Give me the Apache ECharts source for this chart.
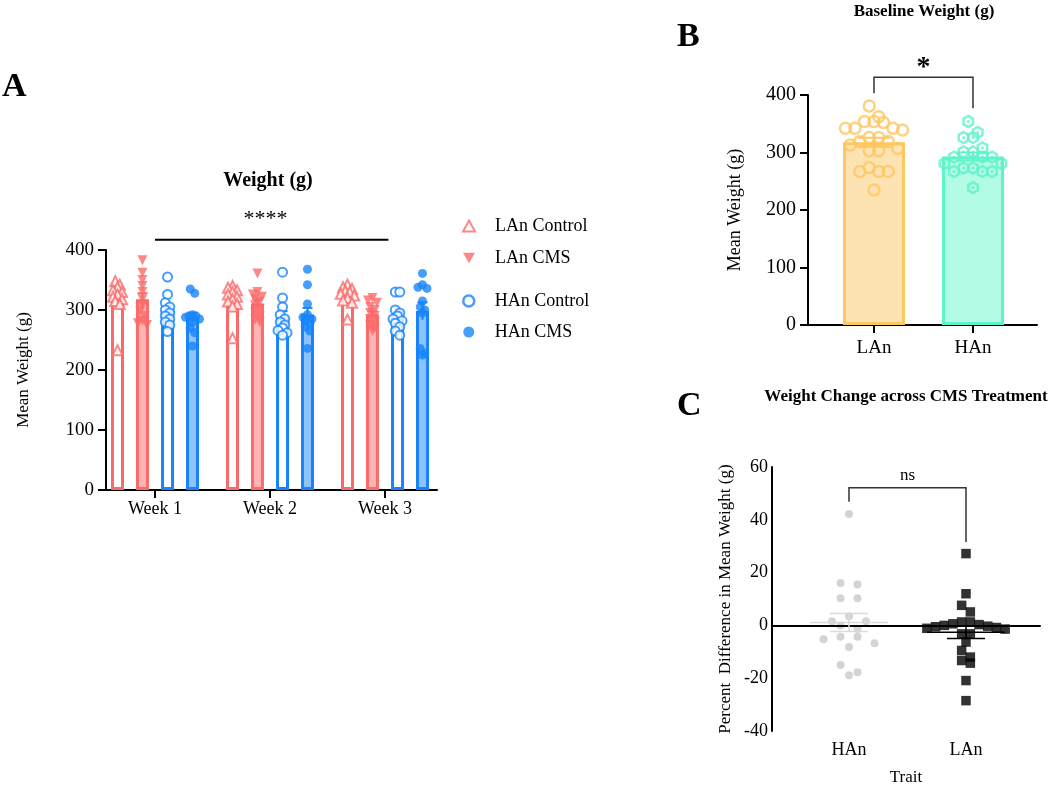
<!DOCTYPE html>
<html><head><meta charset="utf-8">
<script src="https://cdn.jsdelivr.net/npm/echarts@6/dist/echarts.min.js"></script>
<style>html,body{margin:0;padding:0;background:#fff}#c{width:1050px;height:787px}</style>
</head><body><div id="c"></div>
<script>
// ================= DATA =================
// Panel A: weight (g) per week, one inner list per week
const weeks = ['Week 1', 'Week 2', 'Week 3'];
const groupsA = ['LAn Control', 'LAn CMS', 'HAn Control', 'HAn CMS'];
const ticksA = [0, 100, 200, 300, 400];
const lanControl = [
  [348, 342, 338, 333, 330, 326, 322, 318, 315, 310, 233],
  [340, 337, 333, 330, 326, 322, 318, 314, 310, 306, 253],
  [342, 338, 335, 332, 330, 327, 324, 320, 316, 312, 284]
];
const lanCMS = [
  [383, 362, 350, 340, 330, 318, 308, 298, 290, 282, 278, 275],
  [361, 330, 326, 322, 318, 314, 308, 302, 296, 290, 284, 280],
  [320, 316, 312, 305, 300, 295, 290, 285, 280, 275, 270, 265]
];
const hanControl = [
  [355, 326, 312, 305, 300, 295, 290, 285, 280, 275, 264],
  [363, 320, 305, 292, 285, 280, 275, 270, 266, 262, 258],
  [330, 330, 300, 295, 290, 285, 282, 278, 272, 265, 258]
];
const hanCMS = [
  [335, 328, 292, 290, 290, 288, 285, 280, 270, 262, 240],
  [368, 342, 310, 292, 288, 285, 282, 278, 272, 265, 236],
  [361, 342, 338, 336, 315, 305, 300, 295, 236, 228, 225]
];
const sigA = { from: 1, to: 3.03, y: 417, label: '****', labelX: 1.96, labelY: 452 };

// Panel B: baseline weight (g)
const traitsB = ['LAn', 'HAn'];
const ticksB = [0, 100, 200, 300, 400];
const baselineLAn = [381, 362, 354, 354, 352, 342, 342, 342, 339, 326, 326, 319, 319, 313, 307, 303, 303, 274, 267, 267, 267, 235];
const baselineHAn = [354, 335, 326, 326, 308, 301, 301, 292, 292, 292, 281, 281, 273, 273, 267, 267, 267, 239];
const sigB = { left: 403, top: 431, right: 377, label: '*', labelY: 447 };

// Panel C: percent difference in mean weight
const traitsC = ['HAn', 'LAn'];
const ticksC = [-40, -20, 0, 20, 40, 60];
const changeHAn = [42.2, 16.1, 15.5, 10.3, 10.3, 3.5, 1.6, 1.6, 0, -1.3, -4.3, -5.2, -4.3, -6.8, -8.2, -15, -17.7, -18.9];
const changeLAn = [27.2, 12, 7.6, 5.1, 1.3, 1.3, 0.6, 0.3, 0, -0.3, -0.5, -0.8, -1.1, -1.4, -3.2, -3.2, -6.3, -9.5, -12, -13.3, -14.3, -20.9, -28.5];
const sigC = { left: 46.8, top: 52.1, right: 31.6, label: 'ns', labelY: 56.7 };

// ================= STYLE / LAYOUT =================
const FONT = 'Liberation Serif';
const RED = '#fb6a6a', RED_FILL = '#ffb4b4', BLUE = '#1784fb', BLUE_FILL = '#8ec3ff';
const ORANGE = '#fec760', ORANGE_FILL = '#fee3b2', TEAL = '#5ff3cb', TEAL_FILL = '#b2fbe4';
const GREY = '#c9c9c9';

const gA = { left: 106, top: 250, width: 331, height: 240 };
const gB = { left: 808, top: 95, width: 229, height: 230 };
const gC = { left: 772, top: 467, width: 268, height: 264 };
const xA = { min: 0.5739, max: 3.4522 };
const xB = { min: 0.3333, max: 2.6465 };
const xC = { min: 0.3419, max: 2.6325 };
const yA = { min: 0, max: 400 }, yB = { min: 0, max: 400 }, yC = { min: -40, max: 60 };

const pxPer = (g, xr, yr) => ({ x: g.width / (xr.max - xr.min), y: g.height / (yr.max - yr.min) });
const sA = pxPer(gA, xA, yA), sB = pxPer(gB, xB, yB), sC = pxPer(gC, xC, yC);

const mean = a => a.reduce((s, v) => s + v, 0) / a.length;
const sem = a => { const m = mean(a); return Math.sqrt(a.reduce((s, v) => s + (v - m) * (v - m), 0) / (a.length - 1)) / Math.sqrt(a.length); };

// Prism-like column scatter: bin rows vertically, spread each row symmetrically
function swarm(values, center, sc, binPx, stepPx, maxHalf) {
  const sorted = values.slice().sort((a, b) => b - a);
  const rows = [];
  sorted.forEach(v => {
    const r = rows[rows.length - 1];
    if (r && (r.top - v) * sc.y < binPx) r.items.push(v); else rows.push({ top: v, items: [v] });
  });
  const out = [];
  rows.forEach(r => {
    const n = r.items.length;
    let step = stepPx;
    if (maxHalf && n > 1) step = Math.min(stepPx, 2 * maxHalf / (n - 1));
    const order = r.items.map((v, i) => i).sort((a, b) => Math.abs(a - (n - 1) / 2) - Math.abs(b - (n - 1) / 2));
    r.items.forEach((v, i) => out.push([center + (order[i] - (n - 1) / 2) * step / sc.x, v]));
  });
  return out;
}

const axisLineS = { show: true, lineStyle: { color: '#000', width: 2 } };
const tickS = { show: true, length: 8, lineStyle: { color: '#000', width: 2 } };
const lab = (size, extra) => Object.assign({ color: '#000', fontFamily: FONT, fontSize: size }, extra || {});

// ================= SERIES =================
const series = [];
const dataA = [lanControl, lanCMS, hanControl, hanCMS];
const offA = [-0.326, -0.109, 0.109, 0.326];
const strokeA = [RED, RED, BLUE, BLUE];
const fillA = ['#ffffff', RED_FILL, '#ffffff', BLUE_FILL];
const symA = ['triangle', 'triangle', 'circle', 'circle'];
const emptyA = [true, false, true, false];
const rotA = [0, 180, 0, 0];

dataA.forEach((grp, g) => {
  series.push({
    name: groupsA[g] + ' bar', type: 'bar', xAxisIndex: 0, yAxisIndex: 0,
    barWidth: 13, barGap: '-100%', z: 2,
    itemStyle: { color: fillA[g], borderColor: strokeA[g], borderWidth: 3 },
    data: grp.map((w, i) => [i + 1 + offA[g], mean(w)])
  });
  series.push({
    name: groupsA[g] + ' sem', type: 'custom', xAxisIndex: 0, yAxisIndex: 0, z: 3, clip: false,
    data: grp.map((w, i) => [i + 1 + offA[g], mean(w), sem(w)]),
    renderItem: (p, api) => {
      const x = api.value(0), m = api.value(1), e = api.value(2);
      const t = api.coord([x, m + e]), b = api.coord([x, m - e]);
      const st = { stroke: strokeA[g], lineWidth: 2 };
      return { type: 'group', children: [
        { type: 'line', shape: { x1: t[0], y1: t[1], x2: b[0], y2: b[1] }, style: st },
        { type: 'line', shape: { x1: t[0] - 5, y1: t[1], x2: t[0] + 5, y2: t[1] }, style: st }
      ] };
    }
  });
  let pts = [];
  grp.forEach((w, i) => { pts = pts.concat(swarm(w, i + 1 + offA[g], sA, 5, 4.5, 7)); });
  series.push({
    name: groupsA[g], type: 'scatter', xAxisIndex: 0, yAxisIndex: 0, z: 4,
    symbol: symA[g], symbolRotate: rotA[g], symbolSize: g < 2 ? 10 : 9,
    itemStyle: emptyA[g]
      ? { color: '#ffffff', borderColor: strokeA[g], borderWidth: 2 }
      : { color: strokeA[g] },
    data: pts
  });
});

// significance line A
series.push({
  type: 'custom', xAxisIndex: 0, yAxisIndex: 0, clip: false, z: 5, silent: true, data: [0],
  renderItem: (p, api) => {
    const a = api.coord([sigA.from, sigA.y]), b = api.coord([sigA.to, sigA.y]);
    const t = api.coord([sigA.labelX, sigA.labelY]);
    return { type: 'group', children: [
      { type: 'line', shape: { x1: a[0], y1: a[1], x2: b[0], y2: b[1] }, style: { stroke: '#000', lineWidth: 2 } },
      { type: 'text', x: t[0], y: t[1], style: { text: sigA.label, font: '22px "Liberation Serif"', fill: '#000', align: 'center', verticalAlign: 'middle' } }
    ] };
  }
});

// Panel B
const bData = [baselineLAn, baselineHAn];
const bStroke = [ORANGE, TEAL], bFill = [ORANGE_FILL, TEAL_FILL];
bData.forEach((arr, k) => {
  series.push({
    name: traitsB[k] + ' baseline bar', type: 'bar', xAxisIndex: 1, yAxisIndex: 1,
    barWidth: 62, barGap: '-100%', z: 2,
    itemStyle: { color: bFill[k], borderColor: bStroke[k], borderWidth: 3 },
    data: [[k + 1, mean(arr)]]
  });
  series.push({
    type: 'custom', xAxisIndex: 1, yAxisIndex: 1, z: 3, clip: false, silent: true,
    data: [[k + 1, mean(arr), sem(arr)]],
    renderItem: (p, api) => {
      const x = api.value(0), m = api.value(1), e = api.value(2);
      const t = api.coord([x, m + e]), b = api.coord([x, m - e]);
      const st = { stroke: bStroke[k], lineWidth: 2 };
      return { type: 'group', children: [
        { type: 'line', shape: { x1: t[0], y1: t[1], x2: b[0], y2: b[1] }, style: st },
        { type: 'line', shape: { x1: t[0] - 16, y1: t[1], x2: t[0] + 16, y2: t[1] }, style: st },
        { type: 'line', shape: { x1: b[0] - 16, y1: b[1], x2: b[0] + 16, y2: b[1] }, style: st }
      ] };
    }
  });
});
const hexPath = 'path://M5,0L9.33,2.5L9.33,7.5L5,10L0.67,7.5L0.67,2.5Z';
const ptsBL = swarm(baselineLAn, 1, sB, 12, 9.5);
const ptsBH = swarm(baselineHAn, 2, sB, 12, 9.5);
series.push({
  name: 'LAn baseline', type: 'scatter', xAxisIndex: 1, yAxisIndex: 1, z: 4,
  symbol: 'circle', symbolSize: 11,
  itemStyle: { color: 'rgba(255,255,255,0)', borderColor: ORANGE, borderWidth: 2.5 },
  data: ptsBL
});
series.push({
  name: 'HAn baseline', type: 'scatter', xAxisIndex: 1, yAxisIndex: 1, z: 4,
  symbol: hexPath, symbolSize: 11, symbolKeepAspect: true,
  itemStyle: { color: 'rgba(255,255,255,0)', borderColor: TEAL, borderWidth: 2.5 },
  data: ptsBH
});
series.push({
  name: 'HAn baseline dot', type: 'scatter', xAxisIndex: 1, yAxisIndex: 1, z: 5,
  symbol: 'circle', symbolSize: 3, itemStyle: { color: TEAL }, data: ptsBH
});
series.push({
  type: 'custom', xAxisIndex: 1, yAxisIndex: 1, clip: false, z: 5, silent: true, data: [0],
  renderItem: (p, api) => {
    const pts = [[1, sigB.left], [1, sigB.top], [2, sigB.top], [2, sigB.right]].map(q => api.coord(q));
    const t = api.coord([1.5, sigB.labelY]);
    return { type: 'group', children: [
      { type: 'polyline', shape: { points: pts }, style: { stroke: '#333', lineWidth: 1.5, fill: null } },
      { type: 'text', x: t[0], y: t[1], style: { text: sigB.label, font: 'bold 28px "Liberation Serif"', fill: '#000', align: 'center', verticalAlign: 'middle' } }
    ] };
  }
});

// Panel C
const ptsCH = swarm(changeHAn, 1, sC, 8, 17);
const ptsCL = swarm(changeLAn, 2, sC, 8, 8.7);
series.push({
  name: 'HAn change', type: 'scatter', xAxisIndex: 2, yAxisIndex: 2, z: 3,
  symbol: 'circle', symbolSize: 8, itemStyle: { color: GREY }, data: ptsCH,
  markLine: { silent: true, symbol: 'none', label: { show: false }, lineStyle: { color: '#000', width: 2, type: 'solid' }, data: [{ yAxis: 0 }] }
});
series.push({
  name: 'LAn change', type: 'scatter', xAxisIndex: 2, yAxisIndex: 2, z: 4,
  symbol: 'rect', symbolSize: 9.5, itemStyle: { color: '#000' }, data: ptsCL
});
const cData = [changeHAn, changeLAn], cCol = ['#dadada', '#000'];
cData.forEach((arr, k) => {
  series.push({
    type: 'custom', xAxisIndex: 2, yAxisIndex: 2, z: 6, clip: false, silent: true,
    data: [[k + 1, mean(arr), sem(arr)]],
    renderItem: (p, api) => {
      const x = api.value(0), m = api.value(1), e = api.value(2);
      const c = api.coord([x, m]), t = api.coord([x, m + e]), b = api.coord([x, m - e]);
      const st = { stroke: cCol[k], lineWidth: 1.5 };
      return { type: 'group', children: [
        { type: 'line', shape: { x1: c[0] - 39, y1: c[1], x2: c[0] + 39, y2: c[1] }, style: st },
        { type: 'line', shape: { x1: t[0], y1: t[1], x2: b[0], y2: b[1] }, style: st },
        { type: 'line', shape: { x1: t[0] - 19, y1: t[1], x2: t[0] + 19, y2: t[1] }, style: st },
        { type: 'line', shape: { x1: b[0] - 19, y1: b[1], x2: b[0] + 19, y2: b[1] }, style: st }
      ] };
    }
  });
});
series.push({
  type: 'custom', xAxisIndex: 2, yAxisIndex: 2, clip: false, z: 5, silent: true, data: [0],
  renderItem: (p, api) => {
    const pts = [[1, sigC.left], [1, sigC.top], [2, sigC.top], [2, sigC.right]].map(q => api.coord(q));
    const t = api.coord([1.5, sigC.labelY]);
    return { type: 'group', children: [
      { type: 'polyline', shape: { points: pts }, style: { stroke: '#333', lineWidth: 1.5, fill: null } },
      { type: 'text', x: t[0], y: t[1], style: { text: sigC.label, font: '17px "Liberation Serif"', fill: '#000', align: 'center', verticalAlign: 'middle' } }
    ] };
  }
});

// ================= OPTION =================
const legendText = { fontFamily: FONT, fontSize: 18, color: '#000', lineHeight: 20, padding: [0, 0, 0, 15] };
const option = {
  animation: false,
  backgroundColor: '#fff',
  textStyle: { fontFamily: FONT, color: '#000' },
  title: [
    { text: 'A', left: 2, top: 70, padding: 0, textStyle: { fontFamily: FONT, fontWeight: 'bold', fontSize: 34, color: '#000' } },
    { text: 'B', left: 677, top: 20, padding: 0, textStyle: { fontFamily: FONT, fontWeight: 'bold', fontSize: 34, color: '#000' } },
    { text: 'C', left: 677, top: 389, padding: 0, textStyle: { fontFamily: FONT, fontWeight: 'bold', fontSize: 34, color: '#000' } },
    { text: 'Weight (g)', left: 268, top: 171, textAlign: 'center', padding: 0, textStyle: { fontFamily: FONT, fontWeight: 'bold', fontSize: 20, color: '#000' } },
    { text: 'Baseline Weight (g)', left: 924, top: 3, textAlign: 'center', padding: 0, textStyle: { fontFamily: FONT, fontWeight: 'bold', fontSize: 17, color: '#000' } },
    { text: 'Weight Change across CMS Treatment', left: 906, top: 388, textAlign: 'center', padding: 0, textStyle: { fontFamily: FONT, fontWeight: 'bold', fontSize: 17, color: '#000' } }
  ],
  legend: [
    {
      orient: 'vertical', left: 462, top: 216, itemWidth: 12, itemHeight: 11, itemGap: 12, padding: 0,
      textStyle: legendText,
      data: [
        { name: 'LAn Control', icon: 'triangle', itemStyle: { color: '#fff', borderColor: RED, borderWidth: 2 } },
        { name: 'LAn CMS', icon: 'path://M0,0L10,0L5,8.66Z', itemStyle: { color: RED, borderWidth: 0 } }
      ]
    },
    {
      orient: 'vertical', left: 462, top: 291, itemWidth: 12, itemHeight: 11, itemGap: 11, padding: 0,
      textStyle: legendText,
      data: [
        { name: 'HAn Control', icon: 'circle', itemStyle: { color: '#fff', borderColor: BLUE, borderWidth: 2.5 } },
        { name: 'HAn CMS', icon: 'circle', itemStyle: { color: BLUE, borderWidth: 0 } }
      ]
    }
  ],
  grid: [
    Object.assign({ containLabel: false }, gA),
    Object.assign({ containLabel: false }, gB),
    Object.assign({ containLabel: false }, gC)
  ],
  xAxis: [
    {
      gridIndex: 0, type: 'value', min: xA.min, max: xA.max, splitLine: { show: false },
      axisLine: axisLineS, axisTick: Object.assign({ customValues: [1, 2, 3] }, tickS),
      axisLabel: lab(18, { customValues: [1, 2, 3], margin: 10, formatter: v => weeks[Math.round(v) - 1] })
    },
    {
      gridIndex: 1, type: 'value', min: xB.min, max: xB.max, splitLine: { show: false },
      axisLine: axisLineS, axisTick: Object.assign({ customValues: [1, 2] }, tickS),
      axisLabel: lab(19, { customValues: [1, 2], margin: 14, formatter: v => traitsB[Math.round(v) - 1] })
    },
    {
      gridIndex: 2, type: 'value', min: xC.min, max: xC.max, splitLine: { show: false },
      name: 'Trait', nameLocation: 'middle', nameGap: 38, nameTextStyle: { fontFamily: FONT, fontSize: 17, color: '#000' },
      axisLine: axisLineS, axisTick: { show: false },
      axisLabel: lab(18, { customValues: [1, 2], margin: 10, formatter: v => traitsC[Math.round(v) - 1] })
    }
  ],
  yAxis: [
    {
      gridIndex: 0, type: 'value', min: yA.min, max: yA.max, interval: ticksA[1] - ticksA[0], splitLine: { show: false },
      name: 'Mean Weight (g)', nameLocation: 'middle', nameGap: 74, nameTextStyle: { fontFamily: FONT, fontSize: 17, color: '#000' },
      axisLine: axisLineS, axisTick: tickS, axisLabel: lab(19, { margin: 12 })
    },
    {
      gridIndex: 1, type: 'value', min: yB.min, max: yB.max, interval: ticksB[1] - ticksB[0], splitLine: { show: false },
      name: 'Mean Weight (g)', nameLocation: 'middle', nameGap: 64, nameTextStyle: { fontFamily: FONT, fontSize: 18, color: '#000' },
      axisLine: axisLineS, axisTick: tickS, axisLabel: lab(20, { margin: 12 })
    },
    {
      gridIndex: 2, type: 'value', min: yC.min, max: yC.max, interval: ticksC[1] - ticksC[0], splitLine: { show: false },
      name: 'Percent  Difference in Mean Weight (g)', nameLocation: 'middle', nameGap: 38, nameTextStyle: { fontFamily: FONT, fontSize: 17, color: '#000' },
      axisLine: axisLineS, axisTick: { show: false }, axisLabel: lab(18, { margin: 4 })
    }
  ],
  series: series
};

const chart = echarts.init(document.getElementById('c'), null, { renderer: 'canvas' });
chart.setOption(option);
</script>
</body></html>
